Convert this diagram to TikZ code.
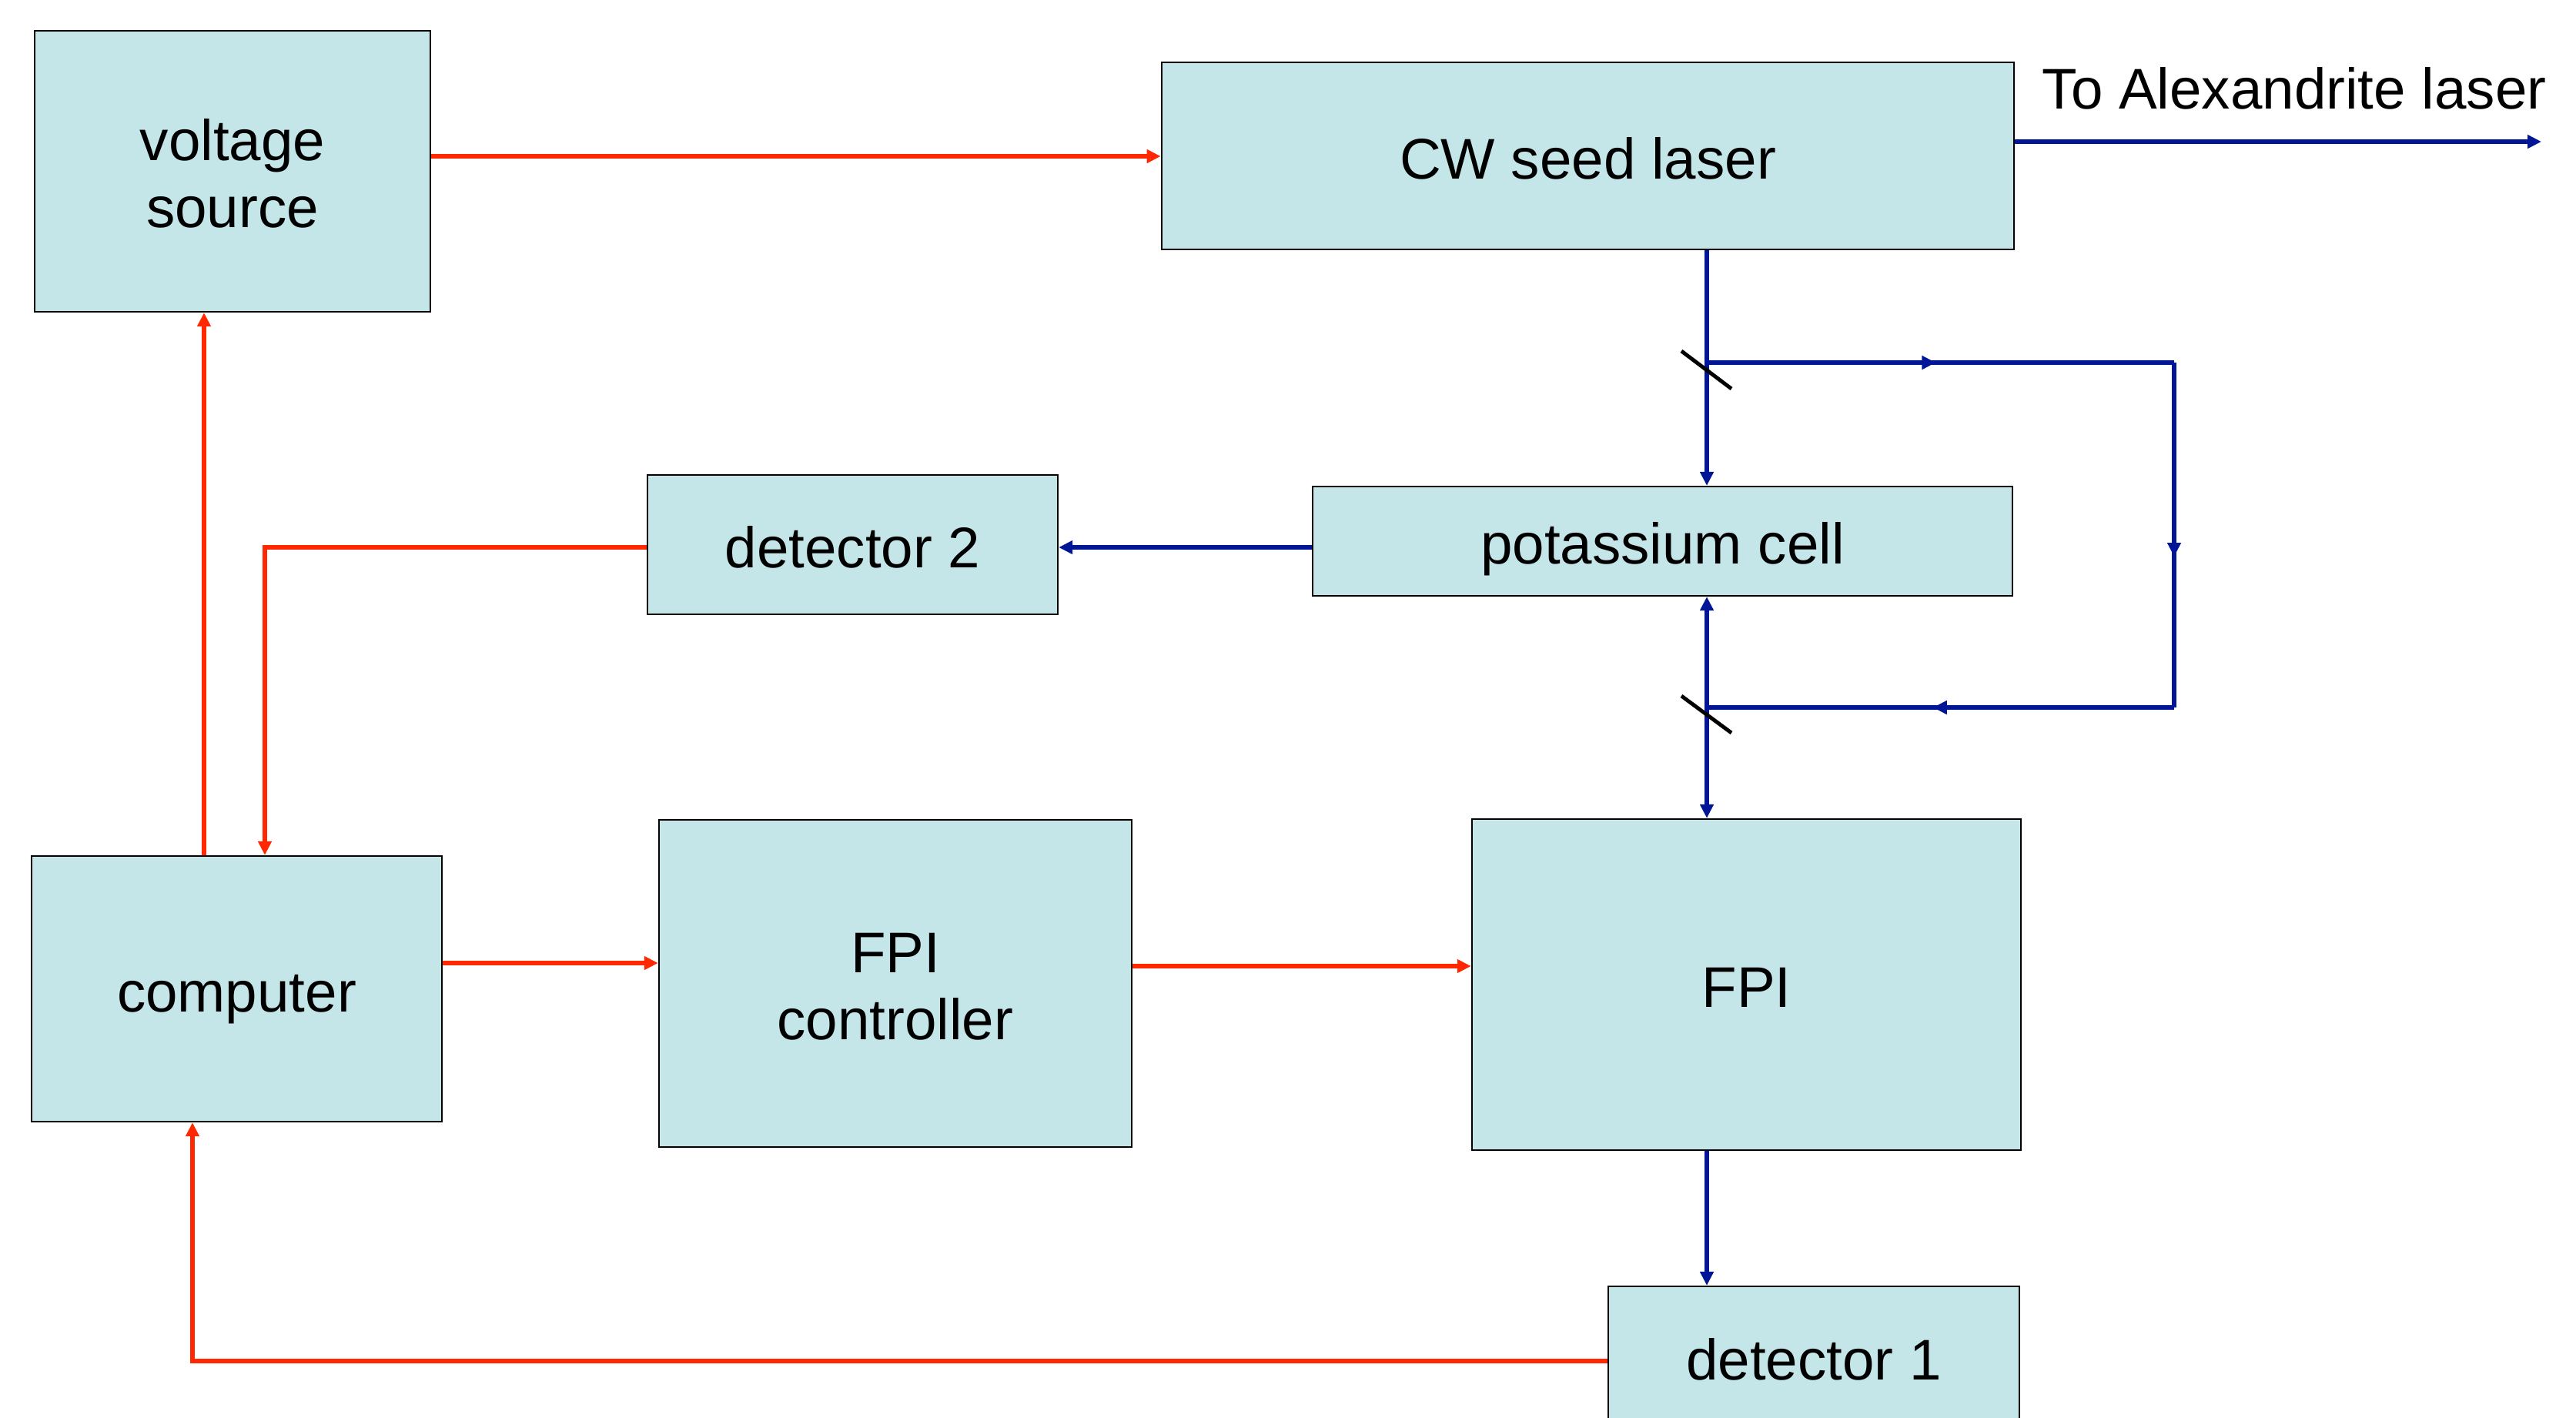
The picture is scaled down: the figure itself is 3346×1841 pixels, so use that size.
\documentclass[tikz,border=0pt]{standalone}
\usepackage{fontspec}
\setmainfont{Liberation Sans}
\usetikzlibrary{arrows.meta,decorations.markings}
\definecolor{boxfill}{RGB}{196,230,232}
\definecolor{sigred}{RGB}{255,40,0}
\definecolor{beamblue}{RGB}{0,22,150}
\tikzset{
  box/.style={draw=black, line width=0.6pt, fill=boxfill, inner sep=0pt, align=center,
    font=\fontsize{21.2pt}{24.75pt}\selectfont},
  oneline/.style={text height=17pt, text depth=0pt},
  twoline/.style={text height=41.75pt, text depth=0pt},
  redline/.style={draw=sigred, line width=1.6pt},
  blueline/.style={draw=beamblue, line width=1.5pt},
  tipr/.style={-{Triangle[length=0.18cm,width=0.17cm]}},
  mirror/.style={draw=black, line width=1.4pt},
  midarrow/.style={postaction={decorate}, decoration={markings,
    mark=at position #1 with {\arrow{Triangle[length=0.18cm,width=0.17cm]}}}}
}
\begin{document}
\begin{tikzpicture}[x=0.01cm,y=-0.01cm]
\useasboundingbox (0,0) rectangle (3346,1841);
\clip (0,0) rectangle (3346,1841);
% boxes
\node[box, twoline, minimum width=5.14cm, minimum height=3.65cm] (vs) at (302,222.5) {voltage\\source};
\node[box, oneline, minimum width=11.07cm, minimum height=2.43cm] (cw) at (2062.5,202.5) {CW seed laser};
\node[box, oneline, minimum width=9.09cm, minimum height=1.42cm] (pot) at (2159.5,703) {potassium cell};
\node[box, oneline, minimum width=5.33cm, minimum height=1.81cm] (det2) at (1107.5,707.5) {detector 2};
\node[box, oneline, minimum width=5.33cm, minimum height=3.45cm] (comp) at (307.5,1284.5) {computer};
\node[box, twoline, minimum width=6.14cm, minimum height=4.25cm] (fpic) at (1163,1277.5) {FPI\\controller};
\node[box, oneline, minimum width=7.13cm, minimum height=4.30cm] (fpi) at (2268.5,1279) {FPI};
\node[box, oneline, minimum width=5.34cm, minimum height=1.84cm] (det1) at (2356,1763) {detector 1};
% helper coordinates
\coordinate (yVS) at (0,203);
\coordinate (yAlex) at (0,184);
\coordinate (xAlex) at (3301,184);
\coordinate (yD2) at (0,711);
\coordinate (cD2) at (344,711);
\coordinate (xComp1) at (344,0);
\coordinate (xComp2) at (265,0);
\coordinate (xComp3) at (250,0);
\coordinate (yFC1) at (0,1251);
\coordinate (yFC2) at (0,1255);
\coordinate (yD1) at (0,1768);
\coordinate (cD1) at (250,1768);
\coordinate (xBeam) at (2217,0);
\coordinate (m1) at (2217,471);
\coordinate (m2) at (2217,919);
\coordinate (c1) at (2824,471);
\coordinate (c2) at (2824,919);
% red signal lines
\draw[redline,tipr] (vs.east |- yVS) -- (cw.west |- yVS);
\draw[redline,tipr] (det2.west |- yD2) -- (cD2) -- (comp.north -| xComp1);
\draw[redline,tipr] (comp.north -| xComp2) -- (vs.south -| xComp2);
\draw[redline,tipr] (comp.east |- yFC1) -- (fpic.west |- yFC1);
\draw[redline,tipr] (fpic.east |- yFC2) -- (fpi.west |- yFC2);
\draw[redline,tipr] (det1.west |- yD1) -- (cD1) -- (comp.south -| xComp3);
% blue beams
\draw[blueline,tipr] (cw.east |- yAlex) -- (xAlex);
\node[anchor=base west, inner sep=0pt, font=\fontsize{21.2pt}{24.75pt}\selectfont] (alex) at (2652,141) {To Alexandrite laser};
\draw[blueline,tipr] (pot.west |- yD2) -- (det2.east |- yD2);
\draw[blueline,tipr] (cw.south -| xBeam) -- (pot.north -| xBeam);
\draw[blueline,midarrow=0.49] (m1) -- (c1);
\draw[blueline,midarrow=0.5625] (c1) -- (c2);
\draw[blueline,midarrow=0.516] (c2) -- (m2);
\draw[blueline,tipr] (m2) -- (pot.south -| xBeam);
\draw[blueline,tipr] (m2) -- (fpi.north -| xBeam);
\draw[blueline,tipr] (fpi.south -| xBeam) -- (det1.north -| xBeam);
% mirrors
\draw[mirror] (2184,456) -- (2249,505);
\draw[mirror] (2184,904) -- (2249,952);
\end{tikzpicture}
\end{document}
